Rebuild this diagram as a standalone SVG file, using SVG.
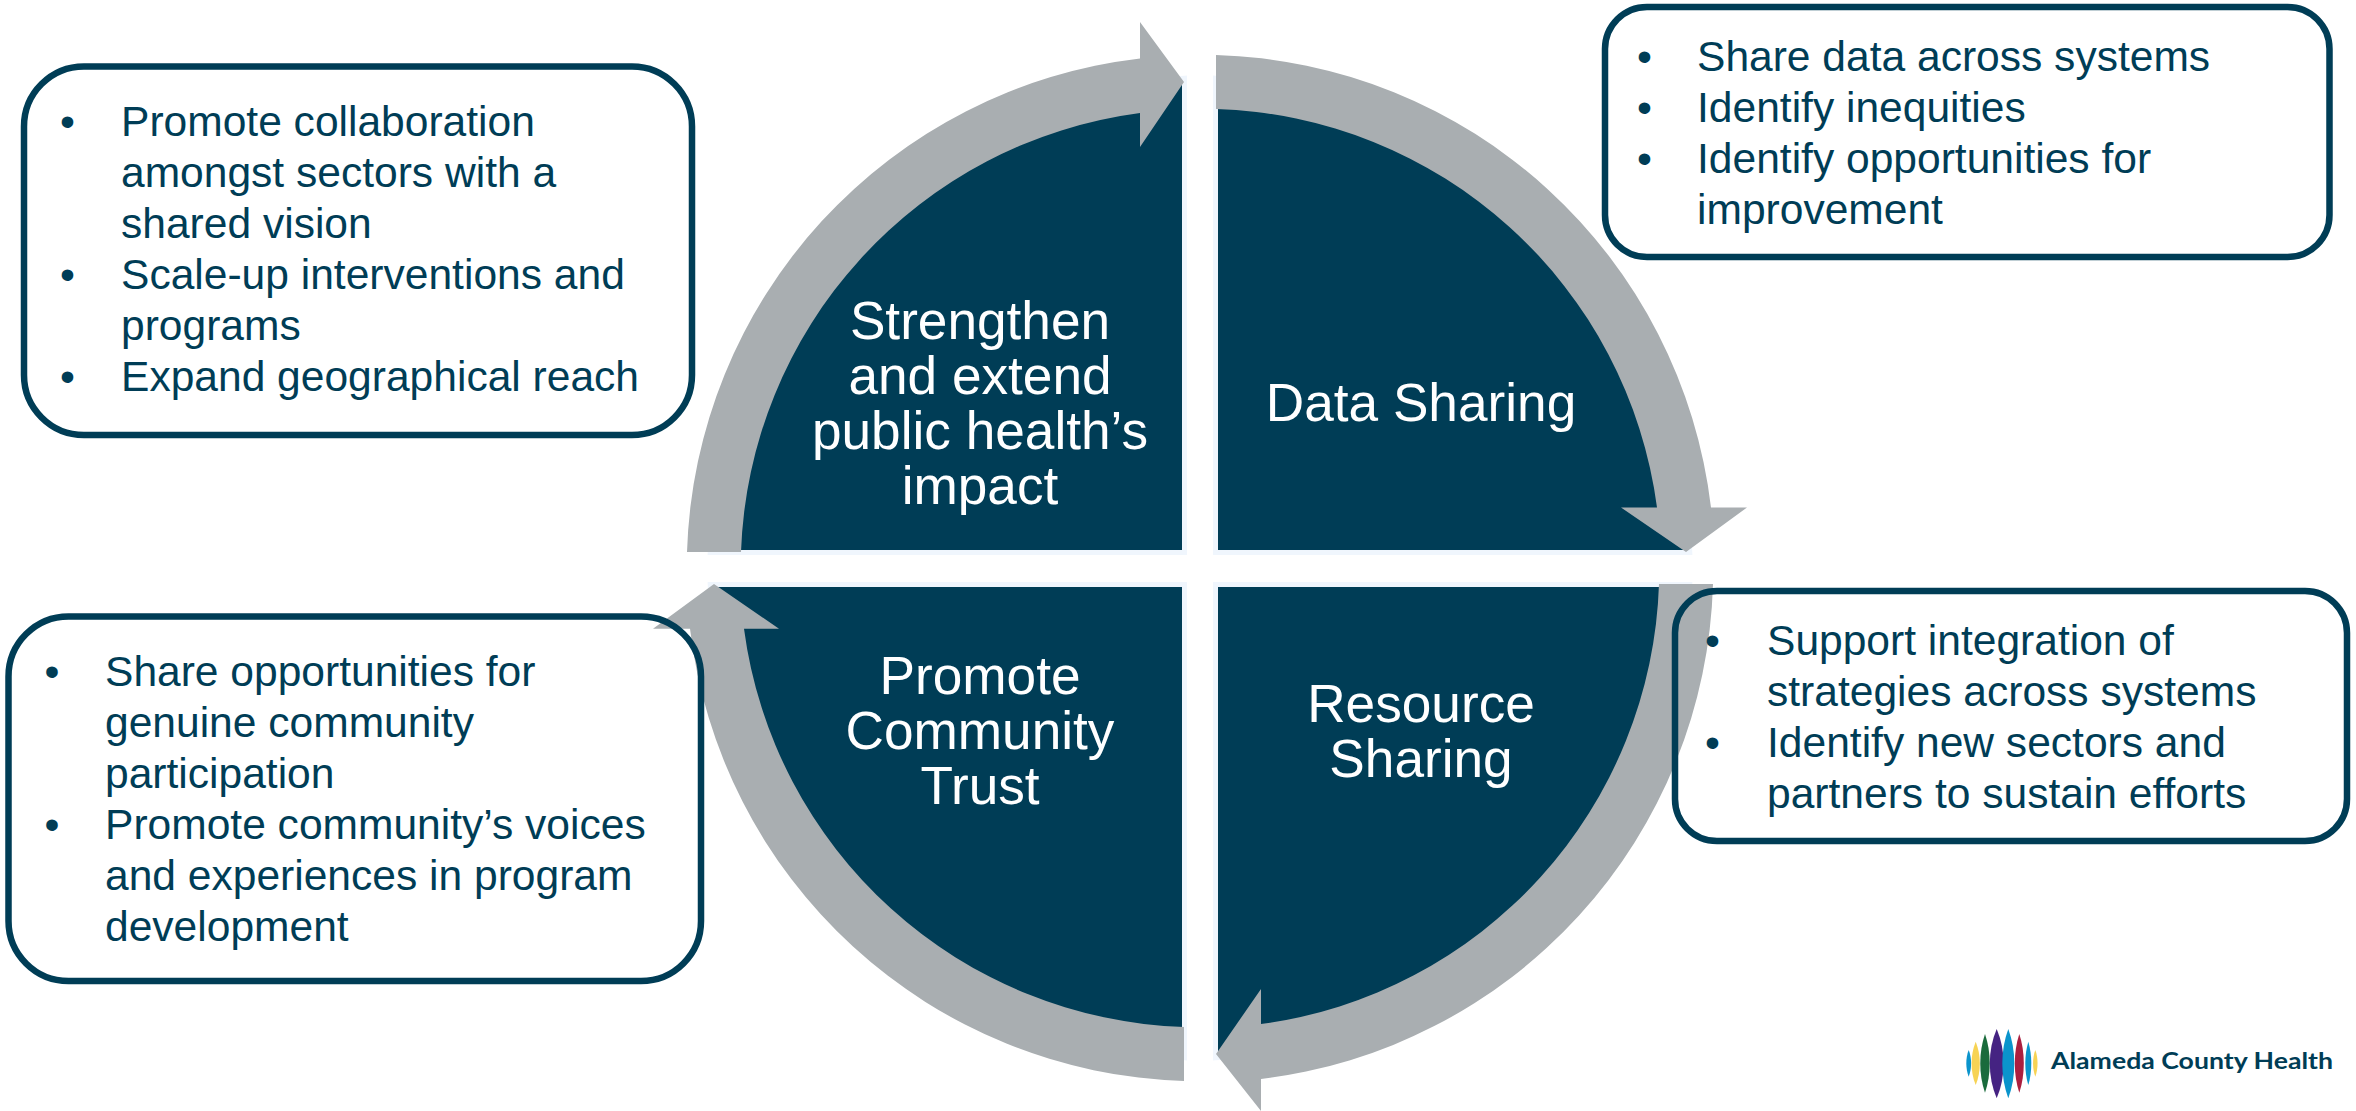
<svg xmlns="http://www.w3.org/2000/svg" width="2356" height="1111" viewBox="0 0 2356 1111">
<style>
.q{fill:#003d56;stroke:#f0f6fd;stroke-width:5}
.r{fill:#a9aeb1}
.b{fill:none;stroke:#003d56;stroke-width:6.500}
.t{font-family:"Liberation Sans",Arial,sans-serif;font-size:42.550px;fill:#003d56}
.c{font-family:"Liberation Sans",Arial,sans-serif;font-size:53.200px;fill:#fff;text-anchor:middle}
</style>
<rect width="2356" height="1111" fill="#fff"/>
<g id="quadrants">
<path class="q" d="M1184.500 552.500V78.200A490 490 0 0 0 710.200 552.500Z"/>
<path class="q" d="M1215.500 552.500V78.200A490 490 0 0 1 1689.800 552.500Z"/>
<path class="q" d="M1215.500 584.500H1689.800A490 490 0 0 1 1215.500 1057.800Z"/>
<path class="q" d="M1184.500 584.500V1057.800A490 490 0 0 1 710.200 584.500Z"/>
</g>
<g id="connectors">
<path class="r" d="M687 552A513 513 0 0 1 1140 58.500V22L1184 82L1140 147V113A459 459 0 0 0 741 552Z"/>
<path class="r" d="M1216 55A513 513 0 0 1 1711 507.500H1747L1686 552L1621 507.500H1657A459 459 0 0 0 1216 109Z"/>
<path class="r" d="M1713 584A513 513 0 0 1 1261 1079V1111L1216 1054L1261 989V1024A459 459 0 0 0 1659 584Z"/>
<path class="r" d="M1184 1081A513 513 0 0 1 690 628.700H653L714 584L779 628.700H744A459 459 0 0 0 1184 1027Z"/>
</g>
<g id="node-strengthen"><text class="c"><tspan x="980" y="338.500">Strengthen</tspan><tspan x="980" y="393.500">and extend</tspan><tspan x="980" y="448.500">public health’s</tspan><tspan x="980" y="503.500">impact</tspan></text></g>
<g id="node-data"><text class="c" x="1421" y="421">Data Sharing</text></g>
<g id="node-resource"><text class="c"><tspan x="1421" y="721.500">Resource</tspan><tspan x="1421" y="776.500">Sharing</tspan></text></g>
<g id="node-trust"><text class="c"><tspan x="980" y="693.500">Promote</tspan><tspan x="980" y="748.500">Community</tspan><tspan x="980" y="803.500">Trust</tspan></text></g>
<g id="box-tl"><rect class="b" x="24" y="66.500" width="668" height="368.500" rx="60"/>
<text class="t"><tspan x="60" y="136">•</tspan><tspan x="121" y="136">Promote collaboration</tspan><tspan x="121" y="187">amongst sectors with a</tspan><tspan x="121" y="238">shared vision</tspan><tspan x="60" y="289">•</tspan><tspan x="121" y="289">Scale-up interventions and</tspan><tspan x="121" y="340">programs</tspan><tspan x="60" y="391">•</tspan><tspan x="121" y="391">Expand geographical reach</tspan></text></g>
<g id="box-tr"><rect class="b" x="1605" y="7" width="724.500" height="250" rx="42"/>
<text class="t"><tspan x="1637" y="71">•</tspan><tspan x="1697" y="71">Share data across systems</tspan><tspan x="1637" y="122">•</tspan><tspan x="1697" y="122">Identify inequities</tspan><tspan x="1637" y="173">•</tspan><tspan x="1697" y="173">Identify opportunities for</tspan><tspan x="1697" y="224">improvement</tspan></text></g>
<g id="box-br"><rect class="b" x="1675" y="591" width="672" height="250" rx="42"/>
<text class="t"><tspan x="1705" y="655">•</tspan><tspan x="1767" y="655">Support integration of</tspan><tspan x="1767" y="706">strategies across systems</tspan><tspan x="1705" y="757">•</tspan><tspan x="1767" y="757">Identify new sectors and</tspan><tspan x="1767" y="808">partners to sustain efforts</tspan></text></g>
<g id="box-bl"><rect class="b" x="8.500" y="616.500" width="692.500" height="364.500" rx="60"/>
<text class="t"><tspan x="44.500" y="686">•</tspan><tspan x="105" y="686">Share opportunities for</tspan><tspan x="105" y="737">genuine community</tspan><tspan x="105" y="788">participation</tspan><tspan x="44.500" y="839">•</tspan><tspan x="105" y="839">Promote community’s voices</tspan><tspan x="105" y="890">and experiences in program</tspan><tspan x="105" y="941">development</tspan></text></g>
<g id="logo">
<path fill="#0a94cc" d="M1968.700 1050C1965.500 1058 1965.500 1068.600 1968.700 1076.700C1971.900 1068.600 1971.900 1058 1968.700 1050Z"/>
<path fill="#f7d354" d="M1975.700 1041.700C1970.200 1055 1970.200 1071.600 1975.700 1085C1981.200 1071.600 1981.200 1055 1975.700 1041.700Z"/>
<path fill="#1a6b3c" d="M1985 1034C1978.700 1052 1978.700 1074.600 1985 1092.700C1991.300 1074.600 1991.300 1052 1985 1034Z"/>
<path fill="#452382" d="M1996.700 1029C1987.500 1050 1987.500 1077 1996.700 1098.300C2005.900 1077 2005.900 1050 1996.700 1029Z"/>
<path fill="#0a94cc" d="M2008.300 1029C2000.300 1050 2000.300 1077 2008.300 1098.300C2016.300 1077 2016.300 1050 2008.300 1029Z"/>
<path fill="#ab1f3f" d="M2019.300 1034C2013.300 1052 2013.300 1074.600 2019.300 1092.700C2025.300 1074.600 2025.300 1052 2019.300 1034Z"/>
<path fill="#0a94cc" d="M2028.300 1041.700C2024.300 1055 2024.300 1071.600 2028.300 1085C2032.300 1071.600 2032.300 1055 2028.300 1041.700Z"/>
<path fill="#f7d354" d="M2035.300 1050C2032.300 1058 2032.300 1068.600 2035.300 1076.700C2038.300 1068.600 2038.300 1058 2035.300 1050Z"/>
<text x="2051" y="1069" font-family="Lato,'Open Sans',sans-serif" font-weight="700" font-size="23" fill="#003d56" textLength="282" lengthAdjust="spacingAndGlyphs">Alameda County Health</text>
</g>
</svg>
